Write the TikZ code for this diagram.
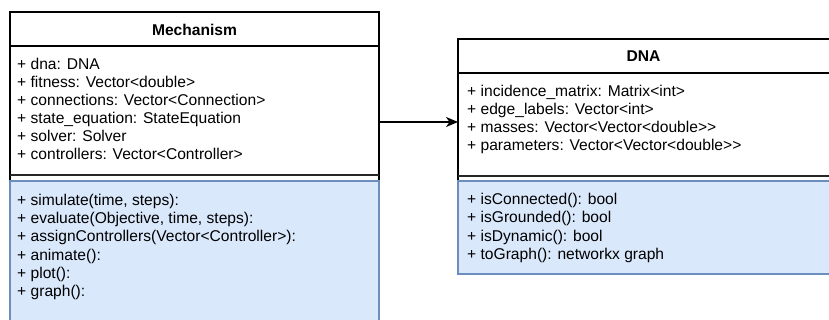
\documentclass[tikz,border=0pt]{standalone}
\usepackage{fontspec}
\setmainfont{Liberation Sans}
\usetikzlibrary{arrows.meta}

\definecolor{opfill}{HTML}{DAE8FC}
\definecolor{opdraw}{HTML}{6C8EBF}

\tikzset{
  part/.style={draw=black, line width=1.3pt, fill=white, rectangle,
               anchor=north west, inner sep=0pt, outer sep=0pt},
  opspart/.style={part, draw=opdraw, fill=opfill},
  classtitle/.style={anchor=base, inner sep=0pt, font=\fontsize{15.6}{18}\selectfont\bfseries},
  member/.style={anchor=base west, inner sep=0pt, font=\fontsize{15.6}{18}\selectfont},
  sepline/.style={draw=black!85, line width=2pt},
  assoc/.style={draw=black, line width=1.3pt,
                -{Stealth[length=12pt,width=10pt,inset=3.5pt]}},
}

\begin{document}
\begin{tikzpicture}[x=1pt, y=-1pt]
  \useasboundingbox (0,0) rectangle (829,320);
  \clip (0,0) rectangle (829,320);

  % ---------------- class Mechanism ----------------
  \node[part, minimum width=369pt, minimum height=135pt] (mechattrs) at (10,46) {};
  \node[opspart, minimum width=369pt, minimum height=160pt] (mechops) at (10,181) {};
  \node[part, minimum width=369pt, minimum height=34pt] (mechhead) at (10,12) {};
  \node[classtitle] (mechname) at (194.5,36) {Mechanism};
  \draw[sepline] ([yshift=6pt]mechattrs.south west) -- ([yshift=6pt]mechattrs.south east);

  \foreach \t [count=\i] in {%
      {+ dna: DNA},
      {+ fitness: Vector<double>},
      {+ connections: Vector<Connection>},
      {+ state\_equation: StateEquation},
      {+ solver: Solver},
      {+ controllers: Vector<Controller>}}
    \node[member] (mattr\i) at (17,52+18*\i) {\t};

  \foreach \t [count=\i] in {%
      {+ simulate(time, steps):},
      {+ evaluate(Objective, time, steps):},
      {+ assignControllers(Vector<Controller>):},
      {+ animate():},
      {+ plot():},
      {+ graph():}}
    \node[member] (mop\i) at (17,188+18*\i) {\t};

  % ---------------- class DNA ----------------
  \node[part, minimum width=400pt, minimum height=108pt] (dnaattrs) at (458,73) {};
  \node[opspart, minimum width=400pt, minimum height=93pt] (dnaops) at (458,181) {};
  \node[part, minimum width=400pt, minimum height=34pt] (dnahead) at (458,39) {};
  \node[classtitle] (dnaname) at (643.5,62) {DNA};
  \draw[sepline] ([yshift=5pt]dnaattrs.south west) -- ([yshift=5pt]dnaattrs.south east);

  \foreach \t [count=\i] in {%
      {+ incidence\_matrix: Matrix<int>},
      {+ edge\_labels: Vector<int>},
      {+ masses: Vector<Vector<double>{}>},
      {+ parameters: Vector<Vector<double>{}>}}
    \node[member] (dattr\i) at (467,79+18*\i) {\t};

  \foreach \t [count=\i] in {%
      {+ isConnected(): bool},
      {+ isGrounded(): bool},
      {+ isDynamic(): bool},
      {+ toGraph(): networkx graph}}
    \node[member] (dop\i) at (467,187+18*\i) {\t};

  % ---------------- association ----------------
  \coordinate (linky) at (0,122);
  \draw[assoc] (mechattrs.east |- linky) -- (dnaattrs.west |- linky);
\end{tikzpicture}
\end{document}
